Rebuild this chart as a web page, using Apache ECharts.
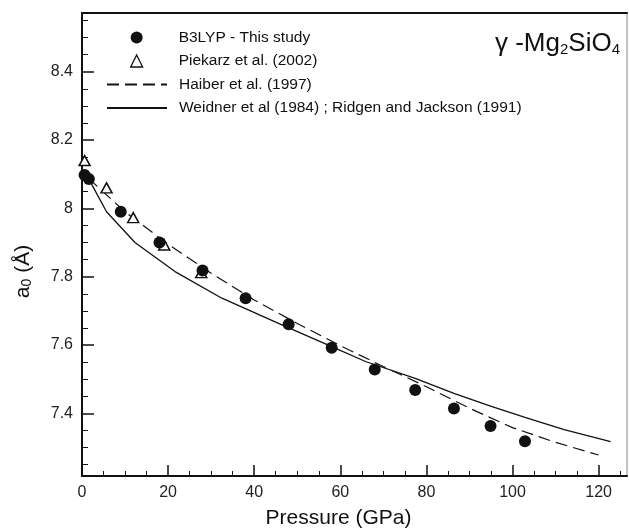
<!DOCTYPE html>
<html>
<head>
<meta charset="utf-8">
<script src="https://cdn.jsdelivr.net/npm/echarts@6/dist/echarts.min.js"></script>
<style>
html, body { margin: 0; padding: 0; background: #fff; }
#myChart { width: 629px; height: 530px; }
</style>
</head>
<body>
<div id="myChart"></div>
<script>
// B3LYP - This study (filled circles)
const b3lypP = [0.6, 1.6, 9, 18, 28, 38, 48, 58, 68, 77.4, 86.4, 94.9, 102.9]
const b3lypA = [8.098, 8.086, 7.99, 7.90, 7.818, 7.737, 7.661, 7.592, 7.528, 7.468, 7.414, 7.363, 7.318]
// Piekarz et al. (2002) (open triangles)
const piekarzP = [0.6, 5.7, 11.9, 19.1, 27.7]
const piekarzA = [8.14, 8.06, 7.973, 7.893, 7.812]
// Haiber et al. (1997), dashed
const haiberP = [1.5, 10, 20, 30, 40, 50, 60, 70, 80, 90, 100, 110, 120]
const haiberA = [8.088, 7.99, 7.895, 7.81, 7.732, 7.663, 7.598, 7.537, 7.478, 7.415, 7.358, 7.315, 7.278]
// Weidner et al (1984) ; Ridgen and Jackson (1991), solid
const weidnerP = [1.5, 5.7, 12.3, 21.6, 32.5, 45, 58, 66, 77.4, 86.4, 94.9, 102.9, 112, 122.8]
const weidnerA = [8.088, 7.99, 7.90, 7.815, 7.737, 7.667, 7.595, 7.551, 7.502, 7.4585, 7.421, 7.388, 7.352, 7.317]

// axes
const xTicks = [0, 20, 40, 60, 80, 100, 120]
const yTicks = [7.4, 7.6, 7.8, 8, 8.2, 8.4]
const xMin = 0
const xMax = 126.6
const yMin = 7.2165
const yMax = 8.572

const names = [
  'B3LYP - This study',
  'Piekarz et al. (2002)',
  'Haiber et al. (1997)',
  'Weidner et al (1984) ; Ridgen and Jackson (1991)',
]

const FONT = '"Liberation Sans", Arial, sans-serif'

const zip = (xs, ys) => xs.map((x, i) => [x, ys[i]])

// minor tick positions
const xMinor = []
for (let v = 5; v < xMax; v += 5) if (v % 20 !== 0) xMinor.push(v)
const yMinor = []
for (let k = 145; k <= 171; k++) {
  const v = k / 20
  if (v > yMin && v < yMax && k % 4 !== 0) yMinor.push(v)
}

const chart = echarts.init(document.getElementById('myChart'))

const axisBase = {
  type: 'value',
  splitLine: { show: false },
}

const legendText = pad => ({
  fontFamily: FONT,
  fontSize: 15.5,
  color: '#111',
  lineHeight: 16,
  padding: [0, 0, 0, pad],
})

chart.setOption({
  animation: false,
  backgroundColor: '#fff',
  title: {
    text: '{a|\u03b3 -Mg}{s|2}{a|SiO}{s|4}',
    right: 9,
    top: 29,
    padding: 0,
    textStyle: {
      rich: {
        a: { fontFamily: FONT, fontSize: 26, fontWeight: 'normal', color: '#111', lineHeight: 28, verticalAlign: 'bottom' },
        s: { fontFamily: FONT, fontSize: 15, fontWeight: 'normal', color: '#111', lineHeight: 14, verticalAlign: 'bottom' },
      },
    },
  },
  grid: {
    show: true,
    left: 82,
    right: 2,
    top: 13,
    bottom: 54,
    outerBoundsMode: 'none',
    borderColor: '#888',
    borderWidth: 1,
  },
  legend: [
    {
      orient: 'vertical',
      left: 130,
      top: 29.5,
      padding: 0,
      itemWidth: 12,
      itemHeight: 12,
      itemGap: 7.5,
      selectedMode: false,
      textStyle: legendText(31),
      data: [
        { name: names[0] },
        { name: names[1], itemStyle: { borderWidth: 1.3 } },
      ],
    },
    {
      orient: 'vertical',
      left: 106,
      top: 29.5 + 2 * 23.5,
      padding: 0,
      itemWidth: 60,
      itemHeight: 12,
      itemGap: 7.5,
      selectedMode: false,
      textStyle: legendText(7),
      data: [
        { name: names[2], itemStyle: { opacity: 0 } },
        { name: names[3], itemStyle: { opacity: 0 } },
      ],
    },
  ],
  xAxis: [
    Object.assign({}, axisBase, {
      min: xMin,
      max: xMax,
      position: 'bottom',
      name: 'Pressure (GPa)',
      nameLocation: 'middle',
      nameGap: 32,
      nameTextStyle: { fontFamily: FONT, fontSize: 21, color: '#111', padding: [0, 32, 0, 0] },
      axisLine: { lineStyle: { color: '#111', width: 2 } },
      axisTick: { inside: true, length: 11, customValues: xTicks, lineStyle: { color: '#111', width: 1.5 } },
      axisLabel: { customValues: xTicks, margin: 9, fontFamily: FONT, fontSize: 16, color: '#222' },
    }),
    Object.assign({}, axisBase, {
      min: xMin,
      max: xMax,
      position: 'bottom',
      axisLine: { show: false },
      axisTick: { inside: true, length: 5, customValues: xMinor, lineStyle: { color: '#111', width: 1 } },
      axisLabel: { show: false },
    }),
    Object.assign({}, axisBase, {
      min: xMin,
      max: xMax,
      position: 'top',
      axisLine: { lineStyle: { color: '#111', width: 2 } },
      axisTick: { show: false },
      axisLabel: { show: false },
    }),
  ],
  yAxis: [
    Object.assign({}, axisBase, {
      min: yMin,
      max: yMax,
      position: 'left',
      name: '{t|a}{s|0}{t| (\u00c5)}',
      nameLocation: 'middle',
      nameGap: 48,
      nameTextStyle: {
        padding: [0, 54, 0, 0],
        rich: {
          t: { fontFamily: FONT, fontSize: 21, color: '#111', lineHeight: 24, verticalAlign: 'bottom' },
          s: { fontFamily: FONT, fontSize: 14, color: '#111', lineHeight: 12, verticalAlign: 'bottom' },
        },
      },
      axisLine: { lineStyle: { color: '#111', width: 2 } },
      axisTick: { inside: true, length: 12, customValues: yTicks, lineStyle: { color: '#111', width: 1.5 } },
      axisLabel: {
        customValues: yTicks,
        margin: 9,
        fontFamily: FONT,
        fontSize: 16,
        color: '#222',
        formatter: v => String(v),
      },
    }),
    Object.assign({}, axisBase, {
      min: yMin,
      max: yMax,
      position: 'left',
      axisLine: { show: false },
      axisTick: { inside: true, length: 6, customValues: yMinor, lineStyle: { color: '#111', width: 1 } },
      axisLabel: { show: false },
    }),
  ],
  series: [
    {
      name: names[2],
      type: 'line',
      data: zip(haiberP, haiberA),
      symbol: 'none',
      lineStyle: { color: '#111', width: 1.2, type: [12, 6] },
      itemStyle: { color: '#111' },
      z: 2,
    },
    {
      name: names[3],
      type: 'line',
      data: zip(weidnerP, weidnerA),
      symbol: 'none',
      lineStyle: { color: '#111', width: 1.3, type: 'solid' },
      itemStyle: { color: '#111' },
      z: 2,
    },
    {
      name: names[1],
      type: 'scatter',
      data: zip(piekarzP, piekarzA),
      symbol: 'triangle',
      symbolSize: [11, 10],
      itemStyle: { color: '#fff', borderColor: '#111', borderWidth: 1.5, opacity: 1 },
      z: 3,
    },
    {
      name: names[0],
      type: 'scatter',
      data: zip(b3lypP, b3lypA),
      symbol: 'circle',
      symbolSize: 12,
      itemStyle: { color: '#111', opacity: 1 },
      z: 4,
    },
  ],
})
</script>
</body>
</html>
